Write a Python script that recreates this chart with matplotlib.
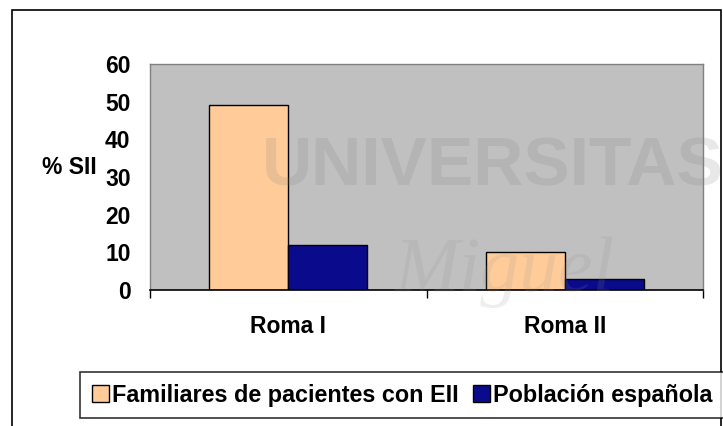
import numpy as np
import matplotlib.pyplot as plt
from matplotlib.patches import Rectangle

# data
categories = ['Roma I', 'Roma II']
familiares = [49, 10]
poblacion = [12, 3]
series_names = ['Familiares de pacientes con EII', 'Población española']
yticks = [0, 10, 20, 30, 40, 50, 60]

plt.rcParams['font.family'] = ['Liberation Sans', 'DejaVu Sans']

W, H = 723, 426
fig = plt.figure(figsize=(W / 100, H / 100), dpi=100)

# outer chart frame
fig.patches.append(Rectangle((12 / W, -0.1), (721 - 12) / W, 1.1 - 10 / H,
                             transform=fig.transFigure, fill=False,
                             edgecolor='black', linewidth=1.2))

ax = fig.add_axes([150 / W, (H - 290) / H, (703 - 150) / W, (290 - 64) / H])
ax.set_facecolor('#C0C0C0')

x = np.arange(len(categories))
w = 1 / 3.5  # excel gap width 150%
b1 = ax.bar(x - w / 2, familiares, w, color='#FFCC99', edgecolor='black', linewidth=1)
b2 = ax.bar(x + w / 2, poblacion, w, color='#0A0A8C', edgecolor='black', linewidth=1)

ax.set_xlim(-0.5, len(categories) - 0.5)
ax.set_ylim(0, 60)
ax.set_yticks(yticks)
ax.set_yticklabels([str(v) for v in yticks], fontsize=16.5, fontweight='bold')
ax.tick_params(axis='y', length=0, pad=14)

ax.set_xticks(x)
ax.set_xticklabels(categories, fontsize=16.5, fontweight='bold')
ax.tick_params(axis='x', which='major', length=0, pad=18)
ax.set_xticks(np.arange(len(categories) + 1) - 0.5, minor=True)
ax.tick_params(axis='x', which='minor', length=6, width=1, direction='out', color='black')

for s in ['left', 'top', 'right']:
    ax.spines[s].set_color('#808080')
    ax.spines[s].set_linewidth(1)
ax.spines['bottom'].set_color('black')
ax.spines['bottom'].set_linewidth(1.2)

fig.text(97 / W, 1 - 167 / H, '% SII', ha='right', va='center',
         fontsize=16.5, fontweight='bold')

# faint watermark of the scanned page
fig.text(262 / W, 1 - 168 / H, 'UNIVERSITAS', ha='left', va='center', fontsize=50,
         fontweight='bold', color='#808080', alpha=0.18)
fig.text(395 / W, 1 - 272 / H, 'Miguel', ha='left', va='center', fontsize=56,
         style='italic', family='Liberation Serif', color='#909090', alpha=0.15)

leg = fig.legend([b1, b2], series_names, ncol=2, loc='upper left',
                 bbox_to_anchor=(80 / W, (H - 372) / H),
                 frameon=True, fancybox=False, edgecolor='black',
                 prop={'weight': 'bold', 'size': 16.8}, handlelength=0.73,
                 handleheight=0.73, handletextpad=0.12, columnspacing=0.64,
                 borderpad=0.5, borderaxespad=0)
leg.get_frame().set_linewidth(1.2)

fig.savefig('out.png', dpi=100)
